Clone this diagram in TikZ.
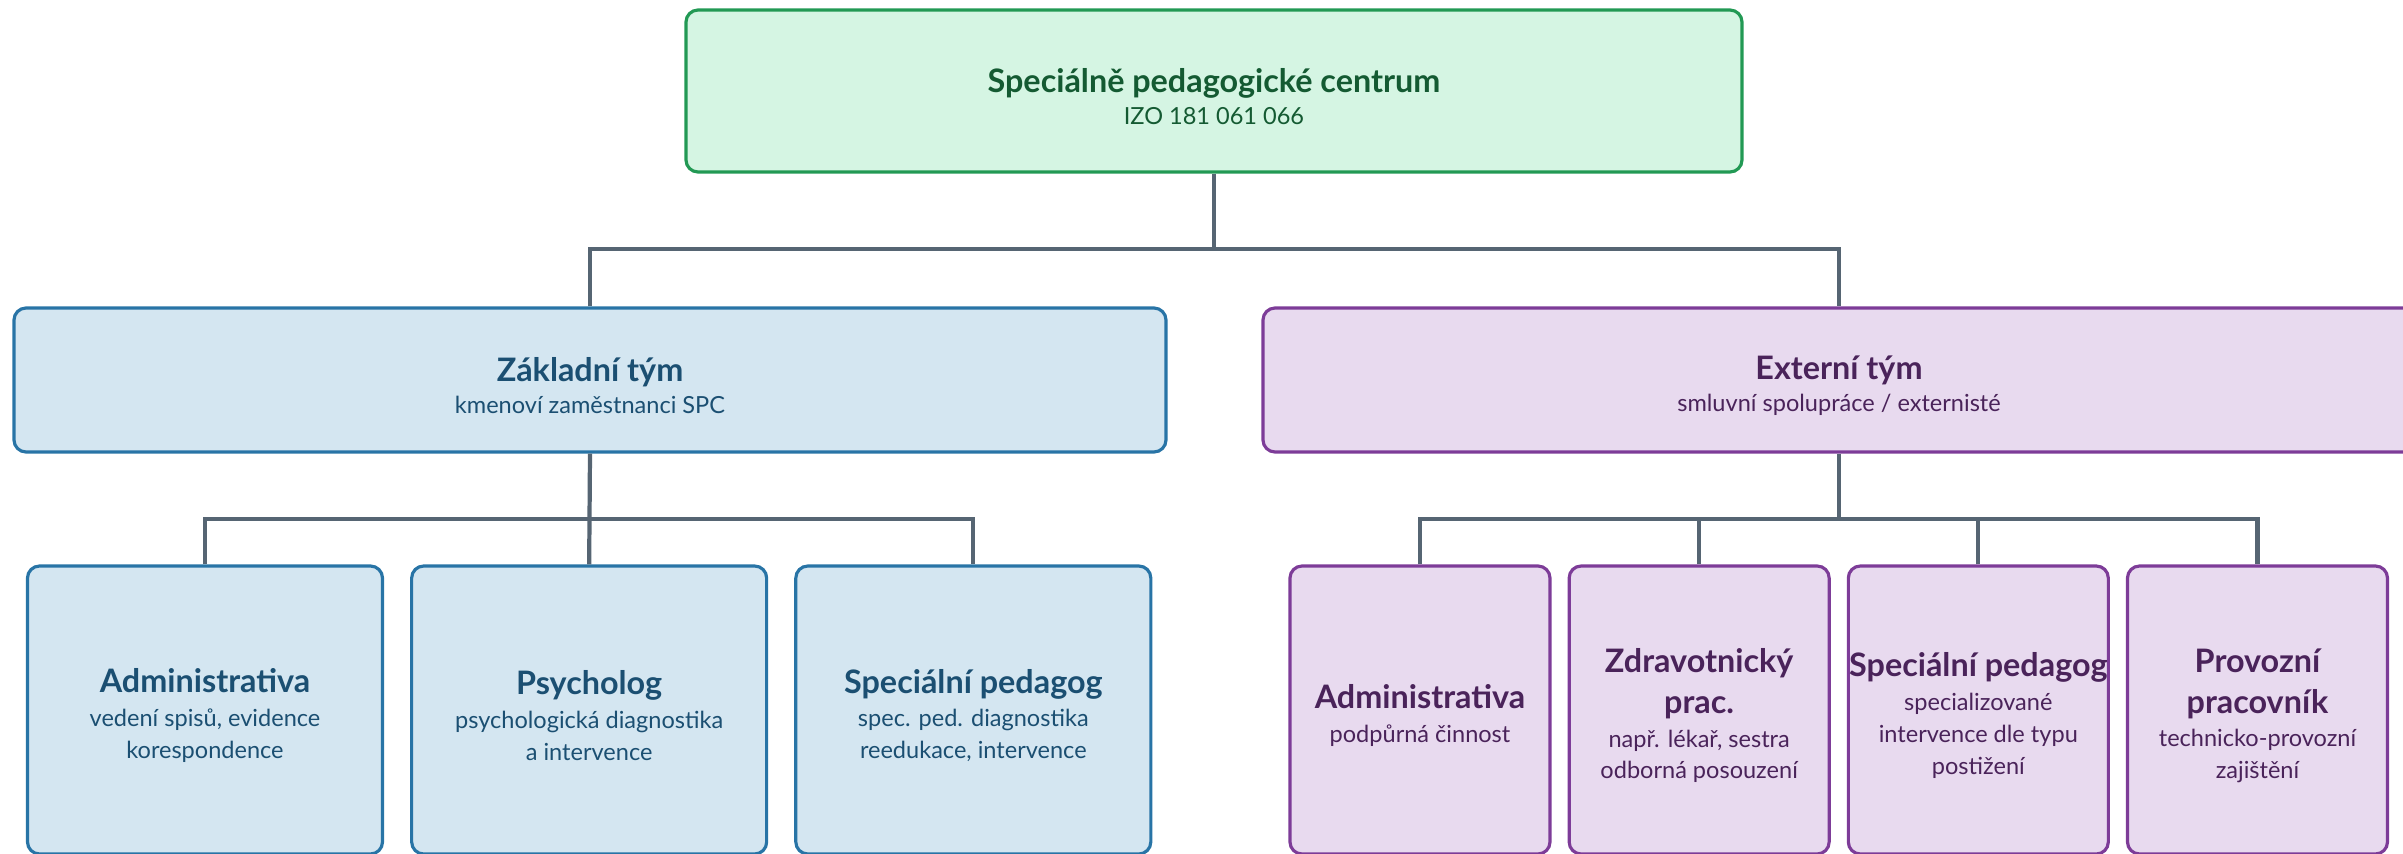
\documentclass[tikz,border=0pt]{standalone}
\usepackage{fontspec}
\setmainfont{Lato}
\usepackage{xcolor}
\usetikzlibrary{positioning}

\definecolor{spcfill}{HTML}{D5F5E3}
\definecolor{spcline}{HTML}{229954}
\definecolor{spctext}{HTML}{145A32}
\definecolor{zaklfill}{HTML}{D4E6F1}
\definecolor{zaklline}{HTML}{2874A6}
\definecolor{zakltext}{HTML}{1B4F72}
\definecolor{extfill}{HTML}{E8DAEF}
\definecolor{extline}{HTML}{7D3C98}
\definecolor{exttext}{HTML}{4A235A}
\definecolor{connline}{HTML}{566573}

\newcommand{\boxhead}[1]{{\fontsize{9.2}{12}\selectfont\bfseries\rule{0pt}{10pt}#1}}
\newcommand{\boxheadmore}[1]{{\fontsize{9.2}{12}\selectfont\bfseries #1}}

\begin{document}
\begin{tikzpicture}[-, node distance=0.26cm,
	box/.style={draw, rounded corners=0.12cm, line width=0.9pt, align=center, inner sep=0pt, font=\fontsize{6.7}{9.1}\selectfont},
	spcbox/.style={box, fill=spcfill, draw=spcline, text=spctext, minimum width=10.56cm, minimum height=1.62cm},
	zaklbox/.style={box, fill=zaklfill, draw=zaklline, text=zakltext, minimum width=11.52cm, minimum height=1.44cm},
	extbox/.style={box, fill=extfill, draw=extline, text=exttext, minimum width=11.52cm, minimum height=1.44cm},
	zaklsub/.style={zaklbox, minimum width=3.55cm, minimum height=2.88cm},
	extsub/.style={extbox, minimum width=2.60cm, minimum height=2.88cm},
	conn/.style={draw=connline, line width=1.2pt}]
	\useasboundingbox (0,0) rectangle (24.03,-8.54);

	\node[spcbox] (spc) at (12.14,-0.91) {\boxhead{Speciálně pedagogické centrum}\\ IZO 181 061 066};
	\node[zaklbox] (zakl) at (5.90,-3.80) {\boxhead{Základní tým}\\ kmenoví zaměstnanci SPC};
	\node[extbox] (ext) at (18.39,-3.80) {\boxhead{Externí tým}\\ smluvní spolupráce / externisté};

	\node[zaklsub] (zadm) at (2.05,-7.10) {\boxhead{Administrativa}\\[0.5pt] vedení spisů, evidence\\ korespondence};
	\node[zaklsub, right=of zadm] (zpsy) {\boxhead{Psycholog}\\[0.5pt] psychologická diagnostika\\ a intervence};
	\node[zaklsub, right=of zpsy] (zped) {\boxhead{Speciální pedagog}\\[0.5pt] spec. ped. diagnostika\\ reedukace, intervence};

	\node[extsub] (eadm) at (14.20,-7.10) {\boxhead{Administrativa}\\[0.5pt] podpůrná činnost};
	\node[extsub, right=0.16cm of eadm] (ezdr) {\boxhead{Zdravotnický}\\[2.6pt] \boxheadmore{prac.}\\[0.5pt] např. lékař, sestra\\ odborná posouzení};
	\node[extsub, right=0.16cm of ezdr] (espe) {\boxhead{Speciální pedagog}\\[0.5pt] specializované\\ intervence dle typu\\ postižení};
	\node[extsub, right=0.16cm of espe] (eprv) {\boxhead{Provozní}\\[2.6pt] \boxheadmore{pracovník}\\[0.5pt] technicko-provozní\\ zajištění};

	\coordinate (b1) at (12.14,-2.49);
	\coordinate (b2) at (5.90,-5.19);
	\coordinate (b3) at (18.39,-5.19);

	\draw[conn] (spc.south) -- (b1);
	\draw[conn] (zakl.north) |- (b1) -| (ext.north);

	\draw[conn] (zakl.south) -- (zpsy.north);
	\draw[conn] (zadm.north) |- (b2) -| (zped.north);

	\draw[conn] (ext.south) -- (b3);
	\draw[conn] (eadm.north) |- (b3) -| (eprv.north);
	\draw[conn] (ezdr.north) -- (ezdr.north |- b3);
	\draw[conn] (espe.north) -- (espe.north |- b3);

\end{tikzpicture}
\end{document}
